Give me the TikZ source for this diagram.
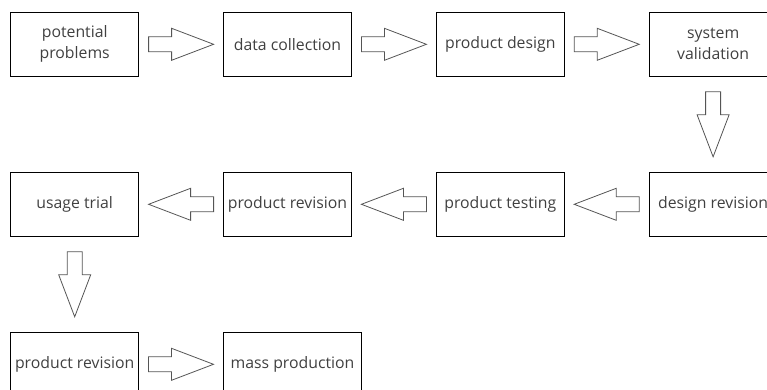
\documentclass[tikz,border=0pt]{standalone}
\usepackage{fontspec}
\setmainfont{Open Sans}
\usetikzlibrary{calc}
\definecolor{txt}{HTML}{404040}
\definecolor{arr}{HTML}{555555}
\tikzset{
  box/.style={draw=black, line width=0.9pt, minimum width=128pt, minimum height=64pt,
    inner sep=0pt, text=txt, font=\fontsize{15.8}{21}\selectfont, align=center},
  barrow/.pic={
    \draw[draw=arr, line width=0.8pt, fill=white, line join=miter]
      (-32.5pt,-7.5pt) -- (-9.5pt,-7.5pt) -- (-9.5pt,-16pt) -- (32.5pt,0pt)
      -- (-9.5pt,16pt) -- (-9.5pt,7.5pt) -- (-32.5pt,7.5pt) -- cycle;
  },
  ontrack/.style={midway, sloped, allow upside down},
}
\begin{document}
\begin{tikzpicture}[x=1pt,y=-1pt]
\useasboundingbox (0,0) rectangle (767,390);
\clip (0,0) rectangle (767,390);
\node[box] (pp) at (74.7,44.3) {potential\\problems};
\node[box] (dc) at (287.5,44.3) {data collection};
\node[box] (pd) at (500.3,44.3) {product design};
\node[box] (sv) at (713.1,44.3) {system\\validation};
\node[box] (dr) at (713.1,204.3) {design revision};
\node[box] (pt) at (500.3,204.3) {product testing};
\node[box] (pr) at (287.5,204.3) {product revision};
\node[box] (ut) at (74.7,204.3) {usage trial};
\node[box] (pr2) at (74.7,364.3) {product revision};
\node[box, minimum width=138.4pt] (mp) at (292.5,364.3) {mass production};
\path (pp.east) -- (dc.west) pic[ontrack] {barrow};
\path (dc.east) -- (pd.west) pic[ontrack] {barrow};
\path (pd.east) -- (sv.west) pic[ontrack] {barrow};
\path (sv.south) -- (dr.north) pic[ontrack] {barrow};
\path (dr.west) -- (pt.east) pic[ontrack] {barrow};
\path (pt.west) -- (pr.east) pic[ontrack] {barrow};
\path (pr.west) -- (ut.east) pic[ontrack] {barrow};
\path (ut.south) -- (pr2.north) pic[ontrack] {barrow};
\path (pr2.east) -- (mp.west) pic[ontrack] {barrow};
\end{tikzpicture}
\end{document}
